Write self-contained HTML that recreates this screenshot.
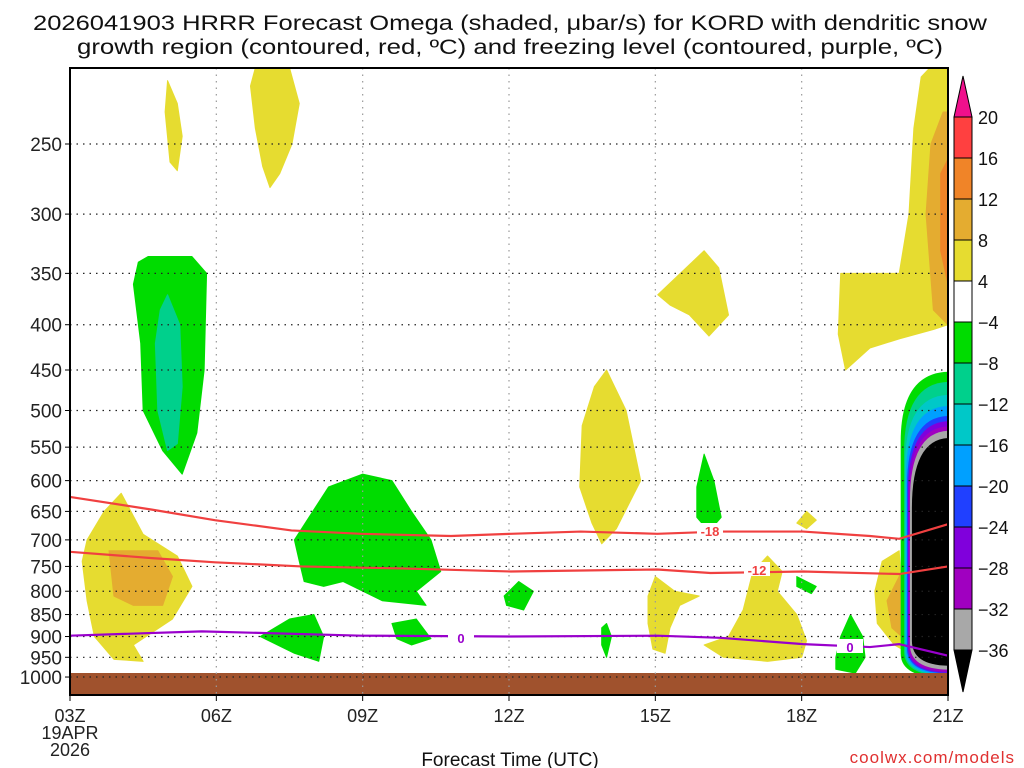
<!DOCTYPE html>
<html><head><meta charset="utf-8"><style>
body{margin:0;background:#fff;}
svg{display:block;font-family:"Liberation Sans",sans-serif;}
</style></head><body>
<svg id="chart" width="1024" height="768" viewBox="0 0 1024 768" xmlns="http://www.w3.org/2000/svg">
<text x="33" y="30" font-size="21" textLength="954" lengthAdjust="spacingAndGlyphs" fill="#111">2026041903 HRRR Forecast Omega (shaded, μbar/s) for KORD with dendritic snow</text>
<text x="77" y="54" font-size="21" textLength="866" lengthAdjust="spacingAndGlyphs" fill="#111">growth region (contoured, red, ºC) and freezing level (contoured, purple, ºC)</text>
<g id="shades"></g>
<g id="grid"></g>
<g id="lines"></g>
<g id="axes"></g>
<g id="cbar"></g>
<text x="510" y="766" font-size="19" text-anchor="middle" fill="#111">Forecast Time (UTC)</text>
<text x="1015" y="763" font-size="17" text-anchor="end" fill="#e03030" letter-spacing="1">coolwx.com/models</text>
</svg>
<script>
// ---- data ----
const pressureTicks=[250,300,350,400,450,500,550,600,650,700,750,800,850,900,950,1000];
const timeTicks=["03Z","06Z","09Z","12Z","15Z","18Z","21Z"];
const cbarLevels=[20,16,12,8,4,-4,-8,-12,-16,-20,-24,-28,-32,-36];
const cbarColors=["#ff4040","#f08428","#e4ac30","#e6dc30","#ffffff","#00dc00","#00d08c","#00c8c8","#00a0ff","#2040ff","#8000dc","#a000c0","#a8a8a8"];
const yellowBlobs=[
 [[2.0,212],[2.2,225],[2.3,245],[2.2,268],[2.05,262],[1.95,230]],
 [[3.8,205],[4.5,205],[4.7,225],[4.55,250],[4.3,270],[4.1,280],[3.95,265],[3.8,240],[3.7,215]],
 [[12.05,370],[13.0,330],[13.3,345],[13.5,390],[13.1,412],[12.7,390],[12.3,380]],
 [[11.0,450],[11.4,500],[11.7,600],[11.2,680],[10.9,707],[10.7,670],[10.45,610],[10.5,520],[10.75,470]],
 [[17.63,205],[18,205],[18,400],[17.7,405],[17.0,415],[16.4,425],[15.9,450],[15.75,410],[15.8,350],[17.0,350],[17.2,300],[17.3,240],[17.45,210]],
 [[1.05,620],[1.5,690],[2.2,730],[2.5,790],[2.1,860],[1.3,920],[1.5,960],[0.9,955],[0.5,900],[0.35,820],[0.25,740],[0.35,700],[0.7,650]],
 [[11.85,810],[12.0,770],[12.4,800],[12.9,810],[12.5,830],[12.3,880],[12.2,940],[11.95,930],[11.85,870]],
 [[13.0,920],[13.5,900],[13.8,840],[14.0,760],[14.3,730],[14.6,760],[14.5,800],[14.9,850],[15.1,910],[15.0,950],[14.3,960],[13.4,950]],
 [[14.9,670],[15.1,650],[15.3,665],[15.1,680]],
 [[16.5,800],[16.65,740],[17.0,720],[17.05,800],[17.05,930],[16.9,920],[16.55,870]]
];
const orangeBlobs=[
 [[17.9,230],[18,230],[18,400],[17.7,385],[17.55,300],[17.65,250]],
 [[0.8,720],[1.8,720],[2.1,770],[1.9,830],[1.3,830],[0.9,810]],
 [[16.75,820],[17.05,760],[17.05,900],[16.85,880]]
];
const darkOrangeBlobs=[[[17.85,270],[18,260],[18,360],[17.85,330]]];
const greenBlobs=[
 [[1.4,340],[1.6,335],[2.5,335],[2.8,350],[2.75,450],[2.6,530],[2.3,590],[1.9,555],[1.5,500],[1.45,420],[1.3,360]],
 [[4.6,700],[5.3,610],[6.0,590],[6.6,600],[7.0,650],[7.4,700],[7.6,760],[7.1,800],[7.3,830],[6.4,820],[5.6,780],[5.2,790],[4.8,780],[4.7,740]],
 [[3.9,900],[4.5,860],[5.0,850],[5.2,900],[5.1,960],[4.6,940]],
 [[6.6,870],[7.1,860],[7.4,905],[7.0,920],[6.7,905]],
 [[8.9,810],[9.2,780],[9.5,800],[9.3,840],[8.95,830]],
 [[10.9,880],[11.0,870],[11.1,900],[11.0,950],[10.9,920]],
 [[13.0,560],[13.2,600],[13.35,660],[13.1,685],[12.85,660],[12.85,610]],
 [[14.9,770],[15.3,790],[15.2,805],[14.9,790]],
 [[15.7,950],[15.8,900],[16.0,850],[16.25,900],[16.3,950],[16.1,990],[15.7,980]]
];
const tealBlobs=[[[2.0,370],[2.25,400],[2.3,470],[2.2,545],[2.0,555],[1.8,500],[1.75,420],[1.85,385]]];
const nestColors=["#00dc00","#00d08c","#00c8c8","#00a0ff","#2040ff","#8000dc","#a000c0","#a8a8a8","#000000"];
const nestLeft=[17.03,17.10,17.12,17.14,17.16,17.18,17.20,17.22,17.26];
const nestTop=[452,464,480,494,507,514,521,527,537];
const nestBottom=[1004,999,996,994,991,989,986,981,971];
const line18Hours=[0,1.68,2.97,4.54,5.97,7.81,9.04,10.47,12.04,13.33,15.03,16.4,17.0,18];
const line18P=[626,647,665,683,689,693,689,685,689,685,685,693,698,672];
const line12Hours=[0,1.68,2.97,4.75,6.8,9.04,12.04,13.13,15.03,17.0,18];
const line12P=[722,734,742,750,754,760,756,763,760,765,750];
const line0Hours=[0,2.7,5.97,9.04,12.04,13.33,15.03,16.4,17.0,18];
const line0P=[898,888,898,900,898,903,918,925,918,946];

// ---- scales ----
const X0=70,X1=948,Y0=68,Y1=695;
const xs=h=>X0+h*(X1-X0)/18;
const ys=p=>144+384.5*Math.log(p/250);
const NS="http://www.w3.org/2000/svg";
function mk(tag,parent,attrs){const e=document.createElementNS(NS,tag);for(const k in attrs)e.setAttribute(k,attrs[k]);parent.appendChild(e);return e;}
const shades=document.getElementById('shades');
mk('clipPath',shades,{id:'pc'}).appendChild(Object.assign(document.createElementNS(NS,'rect'),{}));
shades.querySelector('clipPath rect').setAttribute('x',X0);shades.querySelector('clipPath rect').setAttribute('y',Y0);
shades.querySelector('clipPath rect').setAttribute('width',X1-X0);shades.querySelector('clipPath rect').setAttribute('height',Y1-Y0);
const sg=mk('g',shades,{'clip-path':'url(#pc)'});
function poly(arr,color,name){
 const el=mk('polygon',sg,{points:arr.map(q=>xs(q[0])+','+ys(q[1])).join(' '),fill:color,'stroke':color,'stroke-width':1,'stroke-linejoin':'round'});
 
 
}
yellowBlobs.forEach(b=>poly(b,"#e6dc30","omega-4-8-region"));
orangeBlobs.forEach(b=>poly(b,"#e4ac30","omega-8-12-region"));
darkOrangeBlobs.forEach(b=>poly(b,"#f08428","omega-12-16-region"));
greenBlobs.forEach(b=>poly(b,"#00dc00","omega-neg4-neg8-region"));
tealBlobs.forEach(b=>poly(b,"#00d08c","omega-neg8-neg12-region"));
nestColors.forEach((c,i)=>{
 const r=X1+2,l=xs(nestLeft[i]),t=ys(nestTop[i]),b=ys(nestBottom[i]);
 const d=`M${r},${t} Q${l},${t} ${l},${t+70} L${l},${b-25} Q${l},${b} ${r},${b} Z`;
 const el=mk('path',sg,{d:d,fill:c});
 
 
});
// ground
const gr=mk('rect',sg,{x:X0,y:673,width:X1-X0,height:Y1-673,fill:'#a0522d'});



// grid
const grid=document.getElementById('grid');
pressureTicks.forEach(p=>{const l=mk('line',grid,{x1:X0,x2:X1,y1:ys(p),y2:ys(p),stroke:'#222','stroke-width':1.2,'stroke-dasharray':'1.5 5'});
 });
timeTicks.forEach((t,i)=>{if(i==0||i==6)return;const x=xs(i*3);const l=mk('line',grid,{x1:x,x2:x,y1:Y0,y2:Y1,stroke:'#999','stroke-width':1.2,'stroke-dasharray':'1.5 5'});
 });

// contour lines
const lines=document.getElementById('lines');
function pl(hs,ps,color,name){const el=mk('polyline',lines,{points:hs.map((h,i)=>xs(h)+','+ys(ps[i])).join(' '),fill:'none',stroke:color,'stroke-width':2.2});
 }
pl(line18Hours,line18P,'#f04040','contour-minus18');
pl(line12Hours,line12P,'#f04040','contour-minus12');
pl(line0Hours,line0P,'#9900cc','freezing-level-contour');
function lab(x,y,t,c,name){const r=mk('rect',lines,{x:x-13,y:y-8,width:26,height:14,fill:'#fff'});
 const e=mk('text',lines,{x:x,y:y+5,'font-size':13,'font-weight':'bold','text-anchor':'middle',fill:c});e.textContent=t;
 }
lab(710,531,'-18','#f04040','label-minus18');
lab(757,570,'-12','#f04040','label-minus12');
lab(461,638,'0','#9900cc','label-freezing-0');
lab(850,647,'0','#9900cc','label-freezing-0b');

// axes
const ax=document.getElementById('axes');
mk('rect',ax,{x:X0,y:Y0,width:X1-X0,height:Y1-Y0,fill:'none',stroke:'#000','stroke-width':2});
pressureTicks.forEach(p=>{const y=ys(p);mk('line',ax,{x1:X0-5,x2:X0,y1:y,y2:y,stroke:'#000'});
 const t=mk('text',ax,{x:X0-8,y:y+7,'font-size':19,'text-anchor':'end',fill:'#222'});t.textContent=p;
 });
timeTicks.forEach((s,i)=>{const x=xs(i*3);mk('line',ax,{x1:x,x2:x,y1:Y1,y2:Y1+6,stroke:'#000'});
 const t=mk('text',ax,{x:x,y:722,'font-size':18,'text-anchor':'middle',fill:'#222'});t.textContent=s;
 });
const d1=mk('text',ax,{x:xs(0),y:739,'font-size':18,'text-anchor':'middle',fill:'#222'});d1.textContent='19APR';

const d2=mk('text',ax,{x:xs(0),y:756,'font-size':18,'text-anchor':'middle',fill:'#222'});d2.textContent='2026';


// colorbar
const cb=document.getElementById('cbar');
const CX=954,CW=18,CT=117,CS=41;
mk('polygon',cb,{points:`${CX},${CT} ${CX+CW},${CT} ${CX+CW/2},76`,fill:'#f0108c',stroke:'#000'});
cbarColors.forEach((c,i)=>{const r=mk('rect',cb,{x:CX,y:CT+i*CS,width:CW,height:CS,fill:c,stroke:'#000','stroke-width':1});
 });
const cbBot=CT+cbarColors.length*CS;
mk('polygon',cb,{points:`${CX},${cbBot} ${CX+CW},${cbBot} ${CX+CW/2},692`,fill:'#000',stroke:'#000'});
cbarLevels.forEach((v,i)=>{const t=mk('text',cb,{x:978,y:CT+i*CS+7,'font-size':18,fill:'#111'});t.textContent=v<0?'−'+(-v):v;
 });
</script>
</body></html>
